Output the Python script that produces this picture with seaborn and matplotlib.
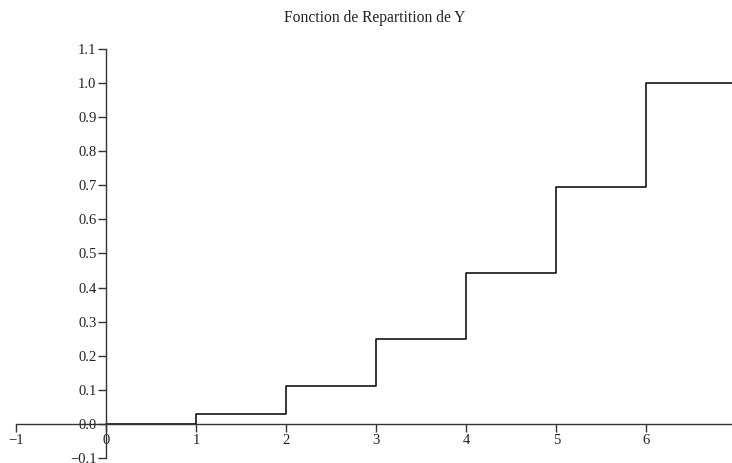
import matplotlib
matplotlib.use("Agg")
import matplotlib.pyplot as plt
import pandas as pd
import seaborn as sns

# CDF of Y
y_values = [0, 1, 2, 3, 4, 5, 6, 7]
cdf_values = [0.0, 0.028, 0.111, 0.25, 0.444, 0.694, 1.0, 1.0]
x_ticks = [-1, 0, 1, 2, 3, 4, 5, 6]
y_ticks = [-0.1, 0.0, 0.1, 0.2, 0.3, 0.4, 0.5, 0.6, 0.7, 0.8, 0.9, 1.0, 1.1]
title = "Fonction de Repartition de Y"

sns.set_theme(style="white")
plt.rcParams["font.family"] = ["Liberation Serif", "DejaVu Serif"]

df = pd.DataFrame({"y": y_values, "F": cdf_values})

fig = plt.figure(figsize=(7.32, 4.63), dpi=100)
ax = fig.add_axes([0.022, 0.011, 0.978, 0.883])

sns.lineplot(data=df, x="y", y="F", drawstyle="steps-post", color="black",
             linewidth=1.1, ax=ax)

ax.set_xlim(-1, 6.95)
ax.set_ylim(-0.1, 1.1)
ax.spines["left"].set_position(("data", 0))
ax.spines["bottom"].set_position(("data", 0))
ax.spines["top"].set_visible(False)
ax.spines["right"].set_visible(False)
for s in ("left", "bottom"):
    ax.spines[s].set_color("#333333")
    ax.spines[s].set_linewidth(1.0)

ax.set_xticks(x_ticks)
ax.set_xticklabels(["\u22121" if t == -1 else str(t) for t in x_ticks])
ax.set_yticks(y_ticks)
ax.set_yticklabels([("\u2212" + f"{abs(t):.1f}") if t < 0 else f"{t:.1f}" for t in y_ticks])
ax.tick_params(axis="both", direction="out", length=6, width=1.0,
               color="#333333", labelsize=10.5, labelcolor="#222222",
               pad=1, bottom=True, left=True)
ax.set_xlabel("")
ax.set_ylabel("")
ax.grid(False)

fig.suptitle(title, fontsize=11.2, x=0.512, y=0.978, color="#222222")

fig.savefig("out.png", dpi=100)
